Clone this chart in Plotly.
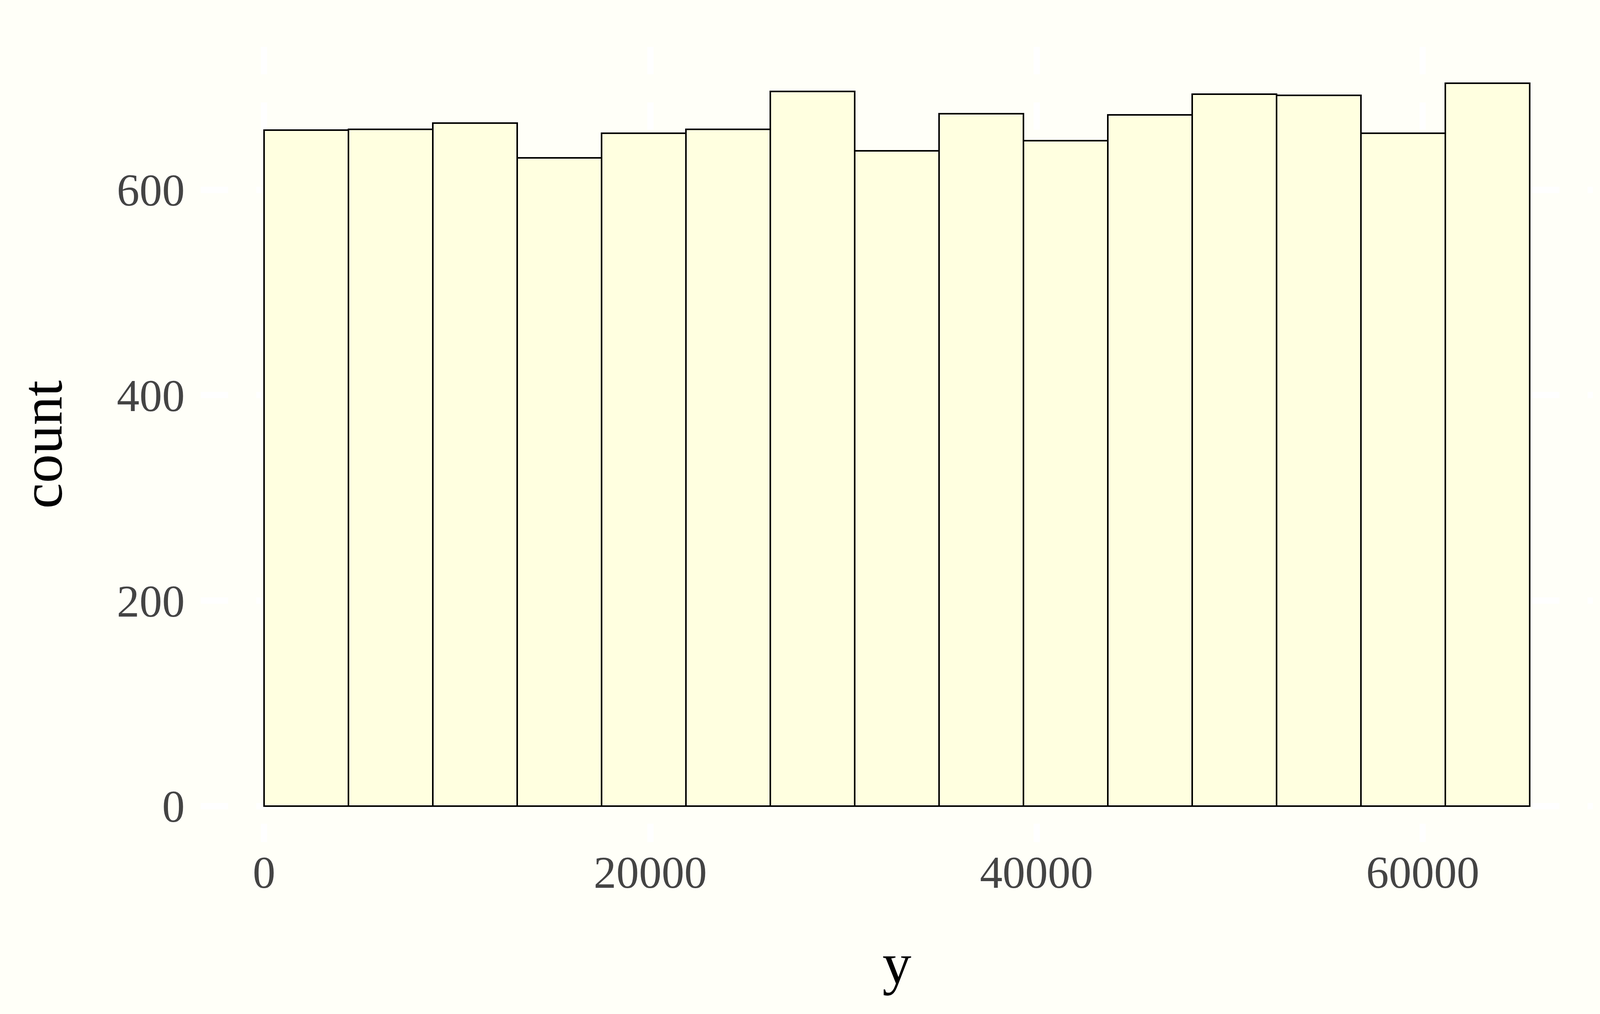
import plotly.graph_objs as go

# histogram of y: 15 bins over 0..65535
bin_edges = [0, 4369, 8738, 13107, 17476, 21845, 26214, 30583, 34952,
             39321, 43690, 48059, 52428, 56797, 61166, 65535]
counts = [658, 659, 665, 631, 655, 659, 696, 638, 674, 648, 673, 693, 692, 655, 704]

x_ticks = [0, 20000, 40000, 60000]
y_ticks = [0, 200, 400, 600]

bg = '#FFFFF8'
font_family = 'Liberation Serif'

centers = [(a + b) / 2 for a, b in zip(bin_edges[:-1], bin_edges[1:])]
widths = [b - a for a, b in zip(bin_edges[:-1], bin_edges[1:])]

trace = go.Bar(
    x=centers, y=counts, width=widths,
    marker=dict(color='#FFFFE0', line=dict(color='black', width=4)),
    showlegend=False,
)

# ggplot style 5% expansion around the data
x_span = bin_edges[-1] - bin_edges[0]
y_span = max(counts)
x_range = [bin_edges[0] - 0.05 * x_span, bin_edges[-1] + 0.05 * x_span]
y_range = [-0.05 * y_span, y_span * 1.05]

grid = dict(showgrid=True, gridcolor='white', gridwidth=16, griddash='70px,72px',
            zeroline=False, showline=False, ticks='')

layout = go.Layout(
    width=4200, height=2595,
    paper_bgcolor=bg, plot_bgcolor=bg,
    margin=go.layout.Margin(l=514, r=122, t=120, b=440, autoexpand=False),
    font=dict(family=font_family, size=116, color='#444444'),
    xaxis=dict(range=x_range, tickvals=x_ticks, ticktext=[str(v) for v in x_ticks],
               ticklabelstandoff=0,
               title=dict(text='y', font=dict(size=148, color='black'), standoff=116),
               **grid),
    yaxis=dict(range=y_range, tickvals=y_ticks, ticktext=[str(v) for v in y_ticks],
               ticklabelstandoff=40,
               title=dict(text='count', font=dict(size=148, color='black'), standoff=90),
               **grid),
    bargap=0,
)

fig = go.Figure(data=[trace], layout=layout)
# no page margin, so the 4200x2595 figure fills the window exactly
fig.write_html('out.html', config={'displayModeBar': False},
               post_script="document.body.style.margin='0';"
                           "document.body.style.overflow='hidden';"
                           f"document.body.style.background='{bg}';")
